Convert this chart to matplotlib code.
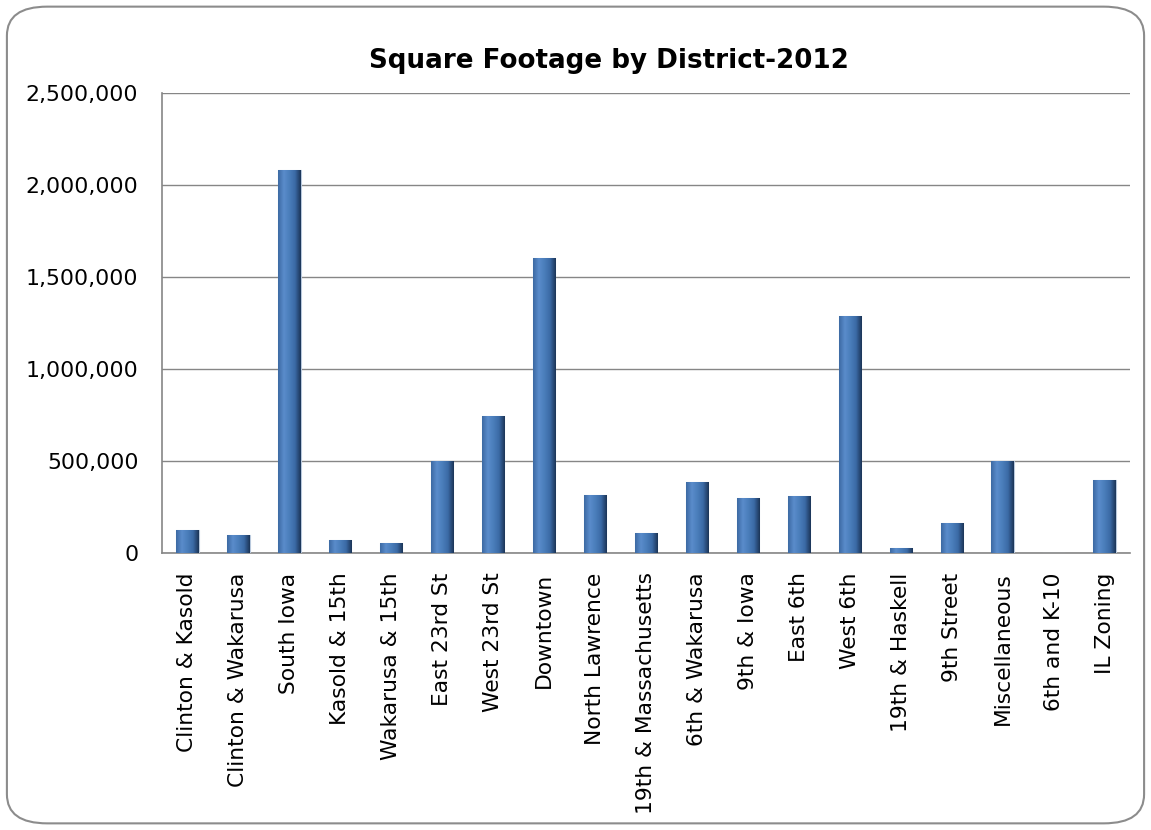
import matplotlib.pyplot as plt
import numpy as np
from matplotlib.patches import FancyBboxPatch
from matplotlib.colors import LinearSegmentedColormap
from matplotlib.ticker import FuncFormatter

districts = ['Clinton & Kasold', 'Clinton & Wakarusa', 'South Iowa',
             'Kasold & 15th', 'Wakarusa & 15th', 'East 23rd St',
             'West 23rd St', 'Downtown', 'North Lawrence',
             '19th & Massachusetts', '6th & Wakarusa', '9th & Iowa',
             'East 6th', 'West 6th', '19th & Haskell', '9th Street',
             'Miscellaneous', '6th and K-10', 'IL Zoning']
sq_footage = [125000, 98000, 2080000, 71000, 54000, 500000,
              745000, 1605000, 315000, 109000, 386000, 299000,
              310000, 1290000, 27000, 163000, 500000, 0, 397000]
yticks = [0, 500000, 1000000, 1500000, 2000000, 2500000]

fig = plt.figure(figsize=(11.51, 8.30), dpi=100)

# Rounded chart border like the Excel chart area
border = FancyBboxPatch((0.006, 0.008), 0.988, 0.984,
                        boxstyle="round,pad=0,rounding_size=0.035",
                        transform=fig.transFigure, facecolor='white',
                        edgecolor='#8c8c8c', linewidth=1.5, zorder=-10)
fig.patches.append(border)

ax = fig.add_axes([0.1407, 0.3337, 0.8411, 0.5542])
ax.set_facecolor('none')

x = np.arange(len(districts))
bars = ax.bar(x, sq_footage, width=0.44, color='#4A7EBB',
              edgecolor='#B9C9DD', linewidth=0.8, zorder=3)

# Fake the bevel with a horizontal gradient clipped to every bar
bevel = LinearSegmentedColormap.from_list(
    'bevel', ['#3D6AA3', '#5A8CCB', '#4A7EBB', '#3B6AA5', '#1C3558'])
grad = np.linspace(0, 1, 64).reshape(1, -1)
for b in bars:
    h = b.get_height()
    if h <= 0:
        continue
    x0 = b.get_x()
    im = ax.imshow(grad, cmap=bevel, aspect='auto', zorder=4,
                   extent=[x0, x0 + b.get_width(), 0, h])
    im.set_clip_path(b)

ax.set_xlim(-0.5, len(districts) - 0.5)
ax.set_ylim(0, 2500000)
ax.set_yticks(yticks)
ax.yaxis.set_major_formatter(FuncFormatter(lambda v, p: f'{int(v):,}'))
ax.set_xticks(x)
ax.set_xticklabels(districts, rotation=90)
ax.tick_params(axis='y', length=0, pad=17, labelsize=15.8)
ax.tick_params(axis='x', length=0, pad=14, labelsize=15.7)

ax.grid(axis='y', color='#868686', linewidth=1, zorder=0)
for side in ['top', 'right']:
    ax.spines[side].set_visible(False)
for side in ['left', 'bottom']:
    ax.spines[side].set_color('#868686')
    ax.spines[side].set_linewidth(1.2)

fig.text(0.529, 0.927, 'Square Footage by District-2012',
         ha='center', va='center', fontsize=18.8, fontweight='bold')

fig.savefig('out.png', dpi=100)
